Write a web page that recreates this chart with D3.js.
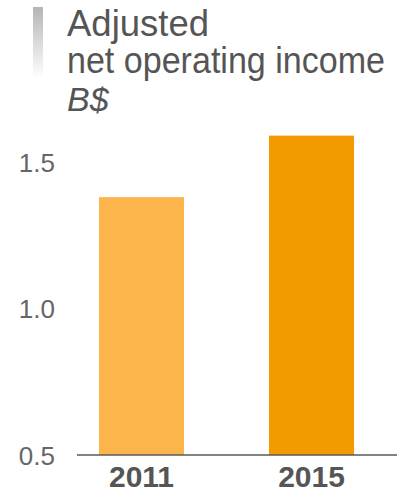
<!DOCTYPE html>
<html>
<head>
<meta charset="utf-8">
<script src="https://cdn.jsdelivr.net/npm/d3@7"></script>
<style>
  html, body { margin: 0; padding: 0; background: #fff; }
  svg { display: block; }
</style>
</head>
<body>
<script>
// Adjusted net operating income, billions of dollars
const years = ["2011", "2015"];
const income = [1.38, 1.59];
const barColors = ["#FBB54B", "#F39A00"];
const yTicks = [0.5, 1.0, 1.5];
const titleLines = ["Adjusted", "net operating income"];
const unitLabel = "B$";

const W = 417, H = 493;
const svg = d3.select("body").append("svg").attr("width", W).attr("height", H);

// Title marker: grey bar fading to white
const defs = svg.append("defs");
const grad = defs.append("linearGradient").attr("id", "titleFade")
  .attr("x1", 0).attr("y1", 0).attr("x2", 0).attr("y2", 1);
grad.append("stop").attr("offset", "0%").attr("stop-color", "#b4b4b4");
grad.append("stop").attr("offset", "100%").attr("stop-color", "#ffffff");
svg.append("rect").attr("x", 33).attr("y", 7).attr("width", 10).attr("height", 71)
  .attr("fill", "url(#titleFade)");

// Title block, set in a slightly condensed face
const title = svg.append("g").attr("font-family", "Liberation Sans, Arial, sans-serif")
  .attr("fill", "#555").attr("font-size", 36);
const titleWidths = [142, 318];
titleLines.forEach((t, i) => {
  title.append("text").attr("x", 67).attr("y", 36 + i * 37)
    .attr("textLength", titleWidths[i]).attr("lengthAdjust", "spacingAndGlyphs")
    .text(t);
});
title.append("text").attr("x", 67).attr("y", 111).attr("font-size", 34)
  .attr("font-style", "italic").text(unitLabel);

// Scales
const x = d3.scaleBand().domain(years).range([56.5, 396.5])
  .paddingInner(0.5).paddingOuter(0.25);
const y = d3.scaleLinear().domain([0.5, 1.5]).range([455, 162]);

// Bars
svg.append("g").selectAll("rect").data(years).join("rect")
  .attr("x", d => x(d))
  .attr("width", x.bandwidth())
  .attr("y", (d, i) => y(income[i]))
  .attr("height", (d, i) => y(0.5) - y(income[i]))
  .attr("fill", (d, i) => barColors[i]);

// Y axis (labels only)
const yAxis = d3.axisLeft(y).tickValues(yTicks).tickFormat(d3.format(".1f")).tickSize(0).tickPadding(0);
const yg = svg.append("g").attr("transform", "translate(55,0)").call(yAxis);
yg.select(".domain").remove();
yg.selectAll("text").attr("font-family", "Liberation Sans, Arial, sans-serif")
  .attr("font-size", 26).attr("fill", "#666").attr("dy", "0.36em");

// X axis baseline and year labels
const xAxis = d3.axisBottom(x).tickSize(0).tickPadding(11);
const xg = svg.append("g").attr("transform", "translate(0,455)").call(xAxis);
xg.select(".domain").attr("d", "M77,0H397").attr("stroke", "#5a5a5a").attr("stroke-width", 1.5);
xg.selectAll("text").attr("font-family", "Liberation Sans, Arial, sans-serif")
  .attr("font-size", 30).attr("font-weight", "bold").attr("fill", "#555")
  .attr("dy", "0.71em");
</script>
</body>
</html>
